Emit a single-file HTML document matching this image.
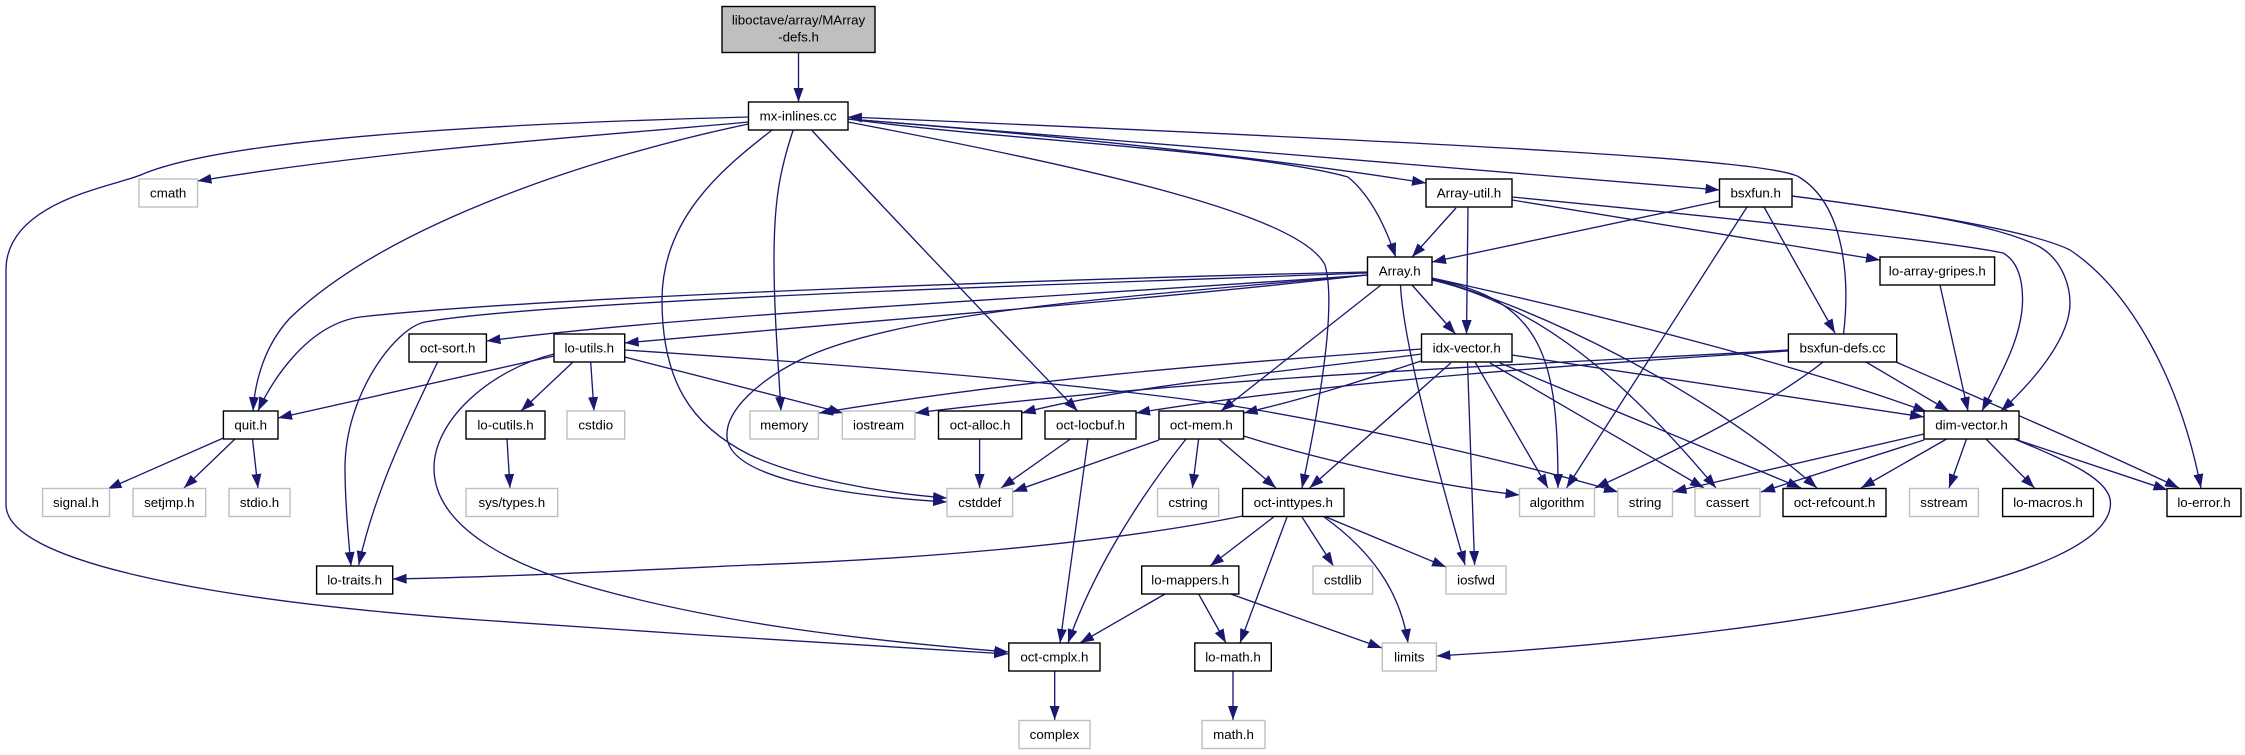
<!DOCTYPE html>
<html><head><meta charset="utf-8"><title>MArray-defs.h include graph</title>
<style>
html,body{margin:0;padding:0;background:#fff}
svg{display:block}
text{font-family:"Liberation Sans",sans-serif;font-size:13.33px;fill:#000;text-anchor:middle}
.b rect{fill:#fff;stroke:#000;stroke-width:1.4}
.g rect{fill:#fff;stroke:#bfbfbf;stroke-width:1.4}
.e path{fill:none;stroke:#191970;stroke-width:1.33;marker-end:url(#a)}
</style></head><body>
<svg width="2245" height="755" viewBox="0 0 2245 755" xmlns="http://www.w3.org/2000/svg">
<defs><marker id="a" markerUnits="userSpaceOnUse" markerWidth="15" markerHeight="11" refX="14" refY="5" orient="auto"><path d="M0,0L14,5L0,10z" fill="#191970" stroke="none"/></marker></defs>
<rect width="2245" height="755" fill="#fff"/>
<g class="e">
<path d="M798.5,52V102"/>
<path d="M748.5,122C600,136 400,148 197.5,181"/>
<path d="M748,117C560,122 240,134 143,174C118,186 6,200 6,270L6,505C6,560 200,600 480,620C650,632 850,645 1008,654"/>
<path d="M748.5,124C600,155 390,222 290,318C265,345 255,380 253,411"/>
<path d="M771.5,130.5C720,170 662,220 662,300C662,380 690,425 750,455C800,478 880,493 947,498"/>
<path d="M793,130.5C780,170 774,200 774,260C774,310 778,360 781,411"/>
<path d="M812,130.5C890,215 1000,330 1077.6,411"/>
<path d="M848,119C1000,140 1250,150 1348,177C1370,195 1385,225 1395.7,257"/>
<path d="M848,119C1050,135 1250,155 1426,183"/>
<path d="M848,119C1100,140 1500,170 1719.5,190"/>
<path d="M848,122C1100,170 1300,215 1325,265C1335,300 1325,380 1302,488"/>
<path d="M1843.5,334C1850,280 1845,205 1799,177C1770,160 1500,145 848,117"/>
<path d="M1456,208L1412,257"/>
<path d="M1468,207L1466.5,334"/>
<path d="M1512,200L1880,260"/>
<path d="M1512,197C1700,215 1940,240 2003,253C2025,265 2023,300 2022,310C2018,345 2000,375 1982,411"/>
<path d="M1719.5,201L1432,262"/>
<path d="M1747,207L1566.5,488"/>
<path d="M1764,207L1835,333"/>
<path d="M1792,196C1900,210 2000,225 2040,247C2065,262 2070,290 2070,303C2070,335 2040,375 2001,411"/>
<path d="M1792,196C1900,210 2030,230 2070,250C2130,290 2180,380 2201,488"/>
<path d="M1940,285L1968,411"/>
<path d="M1367,272C1100,278 550,296 360,317C305,325 270,385 258,411"/>
<path d="M1367,273C1100,283 550,300 425,322C395,328 345,395 345,468C345,500 348,535 351,566"/>
<path d="M1367,275C1100,295 700,313 486.5,341"/>
<path d="M1367,275C1150,300 900,318 624.7,343"/>
<path d="M1367,275C1150,295 900,310 800,360C760,380 725,410 727,437C730,480 850,496 947,502"/>
<path d="M1412,285L1455.5,334"/>
<path d="M1381,285L1221,411"/>
<path d="M1400.5,285C1403,340 1435,460 1465,565"/>
<path d="M1432,279C1545,300 1558,360 1558,488"/>
<path d="M1432,280C1540,305 1625,380 1716,488"/>
<path d="M1432,279C1530,305 1700,385 1817,488"/>
<path d="M1432,278C1600,315 1800,365 1927,412"/>
<path d="M1421.5,349C1250,362 1050,375 819,413"/>
<path d="M1421.5,354C1300,370 1130,385 1021.7,413"/>
<path d="M1421,361C1370,378 1310,398 1243.6,413"/>
<path d="M1450.7,363L1309.6,488"/>
<path d="M1467.5,362L1474.6,565"/>
<path d="M1475,362L1548,488"/>
<path d="M1490,363L1704,488"/>
<path d="M1500,363L1801,488"/>
<path d="M1512,355L1924,417"/>
<path d="M1788,350C1600,362 1250,372 915,413"/>
<path d="M1788,351C1650,360 1350,378 1136,413"/>
<path d="M1866,362L1949,411"/>
<path d="M1896,362C1960,390 2100,450 2179,488"/>
<path d="M1823,362C1775,400 1690,445 1595,488"/>
<path d="M624.7,350C850,365 1050,380 1228,405C1350,425 1500,458 1618,492"/>
<path d="M624.7,357L843,413"/>
<path d="M554,356L278,418"/>
<path d="M554,354C490,370 434,420 434,468C434,530 520,565 560,578C700,622 860,640 1008.5,652"/>
<path d="M573,362L521,411"/>
<path d="M590.7,362L594,411"/>
<path d="M507,439L510,488"/>
<path d="M223.4,438L107.6,489"/>
<path d="M235,439L184,488"/>
<path d="M252.5,439L258,488"/>
<path d="M437.6,362C410,420 375,490 358.7,565"/>
<path d="M1242.6,516C1100,545 900,560 750,565C600,572 500,577 392.7,579"/>
<path d="M979.6,439V488"/>
<path d="M1070.5,439L1001,488"/>
<path d="M1088,439L1060,643"/>
<path d="M1159,440L1013,491.7"/>
<path d="M1186,439C1130,510 1090,580 1068,643"/>
<path d="M1198.6,439L1192.4,488"/>
<path d="M1218.7,439L1276,488"/>
<path d="M1243.6,436C1320,460 1430,485 1519.5,495"/>
<path d="M1273.7,517L1210,566"/>
<path d="M1287,517L1240,643"/>
<path d="M1302,517L1333.5,566"/>
<path d="M1326,517L1446,567"/>
<path d="M1324,517C1370,550 1400,590 1408,643"/>
<path d="M1165,594L1080,643"/>
<path d="M1198.6,594L1226,643"/>
<path d="M1230.7,594L1382,648"/>
<path d="M1233,671V720"/>
<path d="M1054.7,671V720"/>
<path d="M1924,434L1672.5,492"/>
<path d="M1924,440L1761,492"/>
<path d="M1946.6,439L1861,488"/>
<path d="M1966.5,439L1949,488"/>
<path d="M1986,439L2034.5,488"/>
<path d="M2014.5,439L2167.5,490"/>
<path d="M2014.5,439C2070,462 2110.5,480 2110.5,503C2110.5,580 1800,630 1500,652L1436.4,656"/>
</g>
<g class="b">
<rect x="722" y="6.5" width="153" height="46" style="fill:#bfbfbf"/><text x="798.5" y="24.5">liboctave/array/MArray</text><text x="798.5" y="41.5">-defs.h</text>
<rect x="748.5" y="102" width="99.5" height="28"/><text x="798.2" y="120.5">mx-inlines.cc</text>
<rect x="1426" y="179" width="86" height="28"/><text x="1469" y="197.5">Array-util.h</text>
<rect x="1719.5" y="179" width="72.5" height="28"/><text x="1755.7" y="197.5">bsxfun.h</text>
<rect x="1367.5" y="257" width="64.5" height="28"/><text x="1399.7" y="275.5">Array.h</text>
<rect x="1880" y="257" width="114.6" height="28"/><text x="1937.3" y="275.5">lo-array-gripes.h</text>
<rect x="409" y="334" width="77.4" height="28"/><text x="447.7" y="352.5">oct-sort.h</text>
<rect x="554" y="334" width="70.7" height="28"/><text x="589.3" y="352.5">lo-utils.h</text>
<rect x="1421.5" y="334" width="90.5" height="28"/><text x="1466.7" y="352.5">idx-vector.h</text>
<rect x="1788.4" y="334" width="108.3" height="28"/><text x="1842.5" y="352.5">bsxfun-defs.cc</text>
<rect x="223.4" y="411" width="54.6" height="28"/><text x="250.7" y="429.5">quit.h</text>
<rect x="466" y="411" width="79" height="28"/><text x="505.5" y="429.5">lo-cutils.h</text>
<rect x="938.5" y="411" width="83.2" height="28"/><text x="980.1" y="429.5">oct-alloc.h</text>
<rect x="1045" y="411" width="91" height="28"/><text x="1090.5" y="429.5">oct-locbuf.h</text>
<rect x="1159" y="411" width="84.6" height="28"/><text x="1201.3" y="429.5">oct-mem.h</text>
<rect x="1924" y="411" width="95" height="28"/><text x="1971.5" y="429.5">dim-vector.h</text>
<rect x="1242.6" y="488.5" width="101.4" height="28"/><text x="1293.3" y="507">oct-inttypes.h</text>
<rect x="1783" y="488.5" width="103" height="28"/><text x="1834.5" y="507">oct-refcount.h</text>
<rect x="2002.6" y="488.5" width="90.8" height="28"/><text x="2048" y="507">lo-macros.h</text>
<rect x="2167" y="488.5" width="74" height="28"/><text x="2204" y="507">lo-error.h</text>
<rect x="316.6" y="566" width="76.1" height="28"/><text x="354.6" y="584.5">lo-traits.h</text>
<rect x="1141.7" y="566" width="97.1" height="28"/><text x="1190.2" y="584.5">lo-mappers.h</text>
<rect x="1008.8" y="643" width="91.2" height="28"/><text x="1054.4" y="661.5">oct-cmplx.h</text>
<rect x="1194.8" y="643" width="76.5" height="28"/><text x="1233" y="661.5">lo-math.h</text>
</g>
<g class="g">
<rect x="139" y="179" width="58.5" height="28"/><text x="168.2" y="197.5">cmath</text>
<rect x="567" y="411" width="57.7" height="28"/><text x="595.8" y="429.5">cstdio</text>
<rect x="750" y="411" width="68.4" height="28"/><text x="784.2" y="429.5">memory</text>
<rect x="842.3" y="411" width="72.7" height="28"/><text x="878.6" y="429.5">iostream</text>
<rect x="42.6" y="488.5" width="66.9" height="28"/><text x="76" y="507">signal.h</text>
<rect x="133" y="488.5" width="72.7" height="28"/><text x="169.3" y="507">setjmp.h</text>
<rect x="229" y="488.5" width="61" height="28"/><text x="259.5" y="507">stdio.h</text>
<rect x="466" y="488.5" width="91.7" height="28"/><text x="511.8" y="507">sys/types.h</text>
<rect x="947" y="488.5" width="65.6" height="28"/><text x="979.8" y="507">cstddef</text>
<rect x="1157.5" y="488.5" width="61.2" height="28"/><text x="1188.1" y="507">cstring</text>
<rect x="1519.5" y="488.5" width="75" height="28"/><text x="1557" y="507">algorithm</text>
<rect x="1617.8" y="488.5" width="54.7" height="28"/><text x="1645.1" y="507">string</text>
<rect x="1695" y="488.5" width="65" height="28"/><text x="1727.5" y="507">cassert</text>
<rect x="1909.5" y="488.5" width="68.9" height="28"/><text x="1944" y="507">sstream</text>
<rect x="1313" y="566" width="59.7" height="28"/><text x="1342.8" y="584.5">cstdlib</text>
<rect x="1446" y="566" width="60" height="28"/><text x="1476" y="584.5">iosfwd</text>
<rect x="1382.3" y="643" width="54.1" height="28"/><text x="1409.3" y="661.5">limits</text>
<rect x="1019" y="720.5" width="71" height="28"/><text x="1054.5" y="739">complex</text>
<rect x="1202" y="720.5" width="63" height="28"/><text x="1233.5" y="739">math.h</text>
</g>
</svg>
</body></html>
